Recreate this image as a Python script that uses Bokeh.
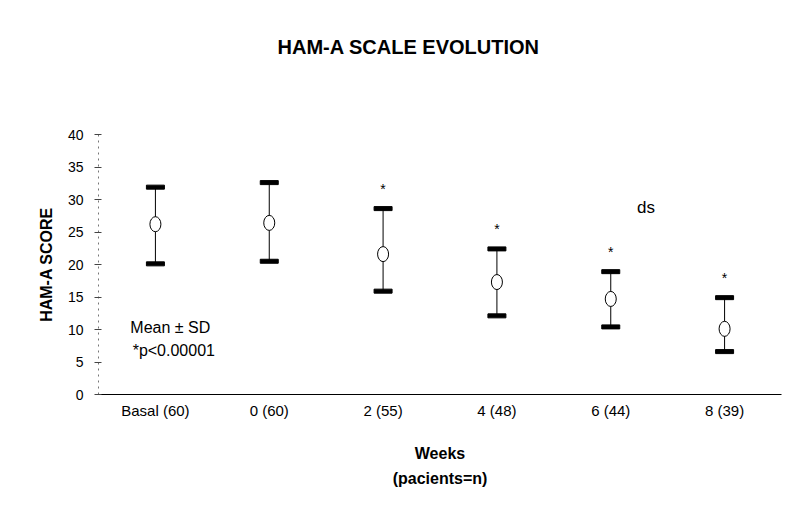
from bokeh.plotting import figure
from bokeh.models import FactorRange, Range1d, FixedTicker, Label, ColumnDataSource, Title
from bokeh.embed import file_html
from bokeh.resources import INLINE
from bokeh.core.properties import value

# ---- data ----
weeks = ["Basal (60)", "0 (60)", "2 (55)", "4 (48)", "6 (44)", "8 (39)"]
mean_score = [26.2, 26.4, 21.6, 17.3, 14.7, 10.1]
upper_sd = [31.9, 32.6, 28.6, 22.4, 18.9, 14.9]
lower_sd = [20.1, 20.5, 15.9, 12.1, 10.4, 6.6]
significance = ["", "", "*", "*", "*", "*"]
y_ticks = [0, 5, 10, 15, 20, 25, 30, 35, 40]

FONT = "Liberation Sans"

src = ColumnDataSource(dict(week=weeks, mean=mean_score, up=upper_sd,
                            lo=lower_sd, sig=significance))

p = figure(width=789, height=505,
           x_range=FactorRange(factors=weeks, range_padding=0),
           y_range=Range1d(0, 40),
           output_backend="svg", toolbar_location=None,
           title_location=None,
           min_border_left=98, min_border_right=8,
           min_border_top=133, min_border_bottom=111)

p.outline_line_color = None
p.xgrid.grid_line_color = None
p.ygrid.grid_line_color = None
p.background_fill_color = "white"
p.border_fill_color = "white"

# spacer between frame and title, then the title itself
p.add_layout(Title(text=" ", text_font_size="10px", standoff=31), "above")
p.add_layout(Title(text="HAM-A SCALE EVOLUTION", align="left", offset=179,
                   standoff=66, text_font=FONT, text_font_style="bold",
                   text_font_size="20px", text_color="black"), "above")

# error bars
p.segment(x0="week", y0="lo", x1="week", y1="up", source=src,
          line_color="black", line_width=1)
p.rect(x="week", y="up", width=18, height=4, width_units="screen",
       height_units="screen", source=src, fill_color="black", line_color="black")
p.rect(x="week", y="lo", width=18, height=4, width_units="screen",
       height_units="screen", source=src, fill_color="black", line_color="black")
p.ellipse(x="week", y="mean", width=11, height=15, width_units="screen",
          height_units="screen", source=src, fill_color="white",
          line_color="black", line_width=1)
p.text(x="week", y="up", text="sig", source=src, y_offset=-20,
       text_align="center", text_baseline="middle",
       text_font=value(FONT), text_font_size="14px", text_color="black")

# axes
p.yaxis.ticker = FixedTicker(ticks=y_ticks)
p.yaxis.axis_label = "HAM-A SCORE"
p.yaxis.axis_label_text_font = FONT
p.yaxis.axis_label_text_font_style = "bold"
p.yaxis.axis_label_text_font_size = "16px"
p.yaxis.axis_label_text_color = "black"
p.yaxis.axis_label_standoff = 10
p.yaxis.major_label_text_font = FONT
p.yaxis.major_label_text_font_size = "14px"
p.yaxis.major_label_text_color = "black"
p.yaxis.major_label_standoff = 11
p.yaxis.axis_line_color = "#777777"
p.yaxis.axis_line_dash = "dotted"
p.yaxis.major_tick_in = 3
p.yaxis.major_tick_out = 4
p.yaxis.major_tick_line_color = "#444444"
p.yaxis.minor_tick_line_color = None

p.xaxis.axis_label = "Weeks\n(pacients=n)"
p.xaxis.axis_label_text_font = FONT
p.xaxis.axis_label_text_font_style = "bold"
p.xaxis.axis_label_text_font_size = "16px"
p.xaxis.axis_label_text_color = "black"
p.xaxis.axis_label_text_line_height = 1.5
p.xaxis.axis_label_standoff = 23
p.xaxis.major_label_text_font = FONT
p.xaxis.major_label_text_font_size = "15px"
p.xaxis.major_label_text_color = "black"
p.xaxis.major_label_standoff = 7
p.xaxis.major_tick_line_color = None
p.xaxis.major_tick_out = 0
p.xaxis.major_tick_in = 0
p.xaxis.axis_line_color = "black"

# annotations
p.add_layout(Label(x=0.28, y=10.3, text="Mean ± SD",
                   text_align="left", text_baseline="middle",
                   text_font=FONT, text_font_size="16px", text_color="black"))
p.add_layout(Label(x=0.30, y=6.7, text="*p<0.00001",
                   text_align="left", text_baseline="middle",
                   text_font=FONT, text_font_size="16px", text_color="black"))
p.add_layout(Label(x=4.81, y=28.7, text="ds",
                   text_align="center", text_baseline="middle",
                   text_font=FONT, text_font_size="17px", text_color="black"))

open("out.html", "w").write(file_html(p, INLINE))
